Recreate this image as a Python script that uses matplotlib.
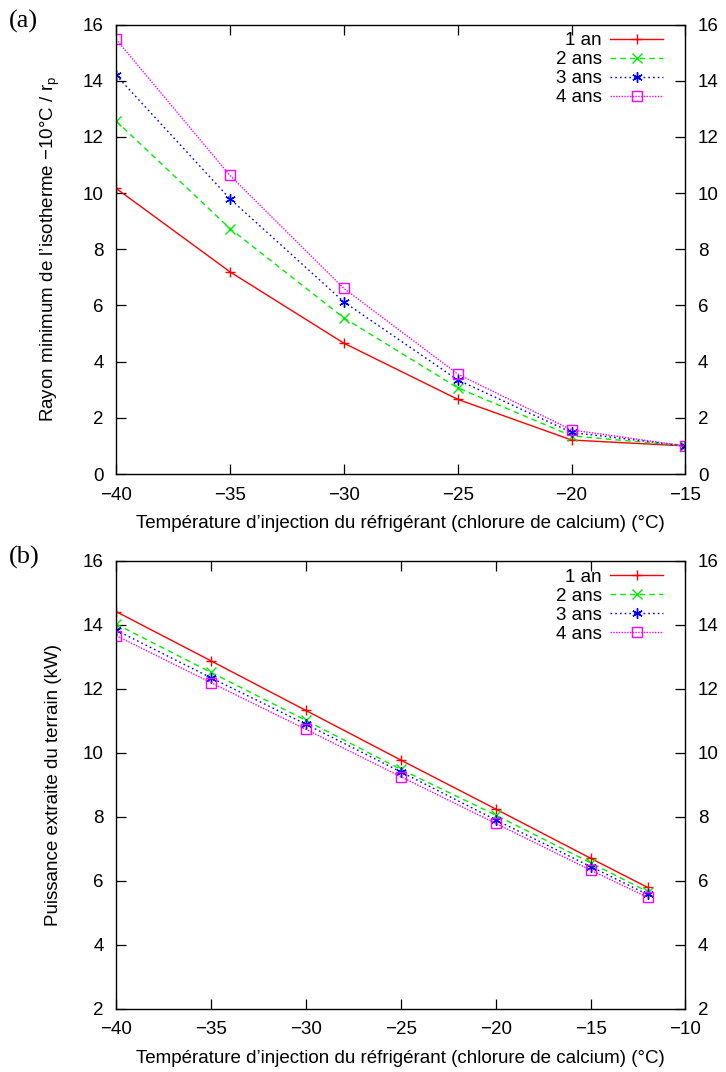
import matplotlib
matplotlib.use("Agg")
import matplotlib.pyplot as plt
from matplotlib import font_manager as fm

# ---------------- data ----------------
labels = ["1 an", "2 ans", "3 ans", "4 ans"]

temp_a = [-40, -35, -30, -25, -20, -15]
rayon_1an = [10.17, 7.20, 4.66, 2.66, 1.21, 1.0]
rayon_2ans = [12.57, 8.74, 5.56, 3.07, 1.36, 1.0]
rayon_3ans = [14.20, 9.80, 6.13, 3.35, 1.48, 1.0]
rayon_4ans = [15.48, 10.63, 6.61, 3.56, 1.57, 1.0]

temp_b = [-40, -35, -30, -25, -20, -15, -12]
puiss_1an = [14.42, 12.88, 11.33, 9.78, 8.25, 6.71, 5.80]
puiss_2ans = [14.03, 12.52, 11.02, 9.49, 8.06, 6.57, 5.67]
puiss_3ans = [13.84, 12.35, 10.90, 9.41, 7.91, 6.45, 5.58]
puiss_4ans = [13.67, 12.20, 10.74, 9.26, 7.80, 6.34, 5.49]

xticks_a = [-40, -35, -30, -25, -20, -15]
yticks_a = [0, 2, 4, 6, 8, 10, 12, 14, 16]
xticks_b = [-40, -35, -30, -25, -20, -15, -10]
yticks_b = [2, 4, 6, 8, 10, 12, 14, 16]

xlabel = "Température d\u2019injection du réfrigérant (chlorure de calcium) (°C)"
ylabel_a = "Rayon minimum de l\u2019isotherme \u221210°C / r$_\\mathregular{p}$"
ylabel_b = "Puissance extraite du terrain (kW)"

# ---------------- style ----------------
avail = {f.name for f in fm.fontManager.ttflist}
sans = "Liberation Sans Narrow" if "Liberation Sans Narrow" in avail else "Liberation Sans"
plt.rcParams["font.family"] = [sans, "DejaVu Sans"]
plt.rcParams["mathtext.fontset"] = "custom"
plt.rcParams["mathtext.rm"] = sans
plt.rcParams["mathtext.it"] = sans

colors = ["#ff0000", "#00ee00", "#0000ff", "#ff00ff"]
styles = ["-", (0, (4, 3)), (0, (1.2, 2.2)), (0, (1, 1))]
markers = ["+", "x", (6, 2, 0), "s"]
FS = 13.5

fig = plt.figure(figsize=(7.26, 10.72), dpi=100)
ax_a = fig.add_axes([0.1598, 0.5578, 0.7844, 0.4193])
ax_b = fig.add_axes([0.1598, 0.0588, 0.7844, 0.4179])


def draw(ax, x, series, xticks, yticks, ylabel, tag):
    for s, lab, c, ls, m in zip(series, labels, colors, styles, markers):
        mfc = "none" if m == "s" else c
        ax.plot(x, s, color=c, linestyle=ls, lw=1.0, marker=m, markersize=7.5,
                markerfacecolor=mfc, markeredgecolor=c, markeredgewidth=1.0,
                label=lab)
    ax.set_xlim(xticks[0], xticks[-1])
    ax.set_ylim(yticks[0], yticks[-1])
    ax.set_xticks(xticks)
    ax.set_yticks(yticks)
    ax.tick_params(direction="in", length=7, width=0.9, top=True, right=True,
                   labelright=True, labelsize=FS, pad=9)
    for sp in ax.spines.values():
        sp.set_linewidth(1.0)
    ax.set_xlabel(xlabel, fontsize=FS, labelpad=8)
    ax.set_ylabel(ylabel, fontsize=FS, labelpad=15)
    leg = ax.legend(loc="upper right", markerfirst=False, frameon=False,
                    fontsize=FS, handlelength=2.8, handletextpad=0.45,
                    labelspacing=0.1, borderaxespad=0.0, borderpad=0.2,
                    bbox_to_anchor=(0.967, 0.991))
    for t in leg.get_texts():
        t.set_ha("right")
    fig.text(0.012, ax.get_position().y1 + 0.003, tag, fontsize=19,
             family=["Liberation Serif", "DejaVu Serif"], va="center")


draw(ax_a, temp_a, [rayon_1an, rayon_2ans, rayon_3ans, rayon_4ans],
     xticks_a, yticks_a, ylabel_a, "(a)")
draw(ax_b, temp_b, [puiss_1an, puiss_2ans, puiss_3ans, puiss_4ans],
     xticks_b, yticks_b, ylabel_b, "(b)")

fig.savefig("out.png", dpi=100)
